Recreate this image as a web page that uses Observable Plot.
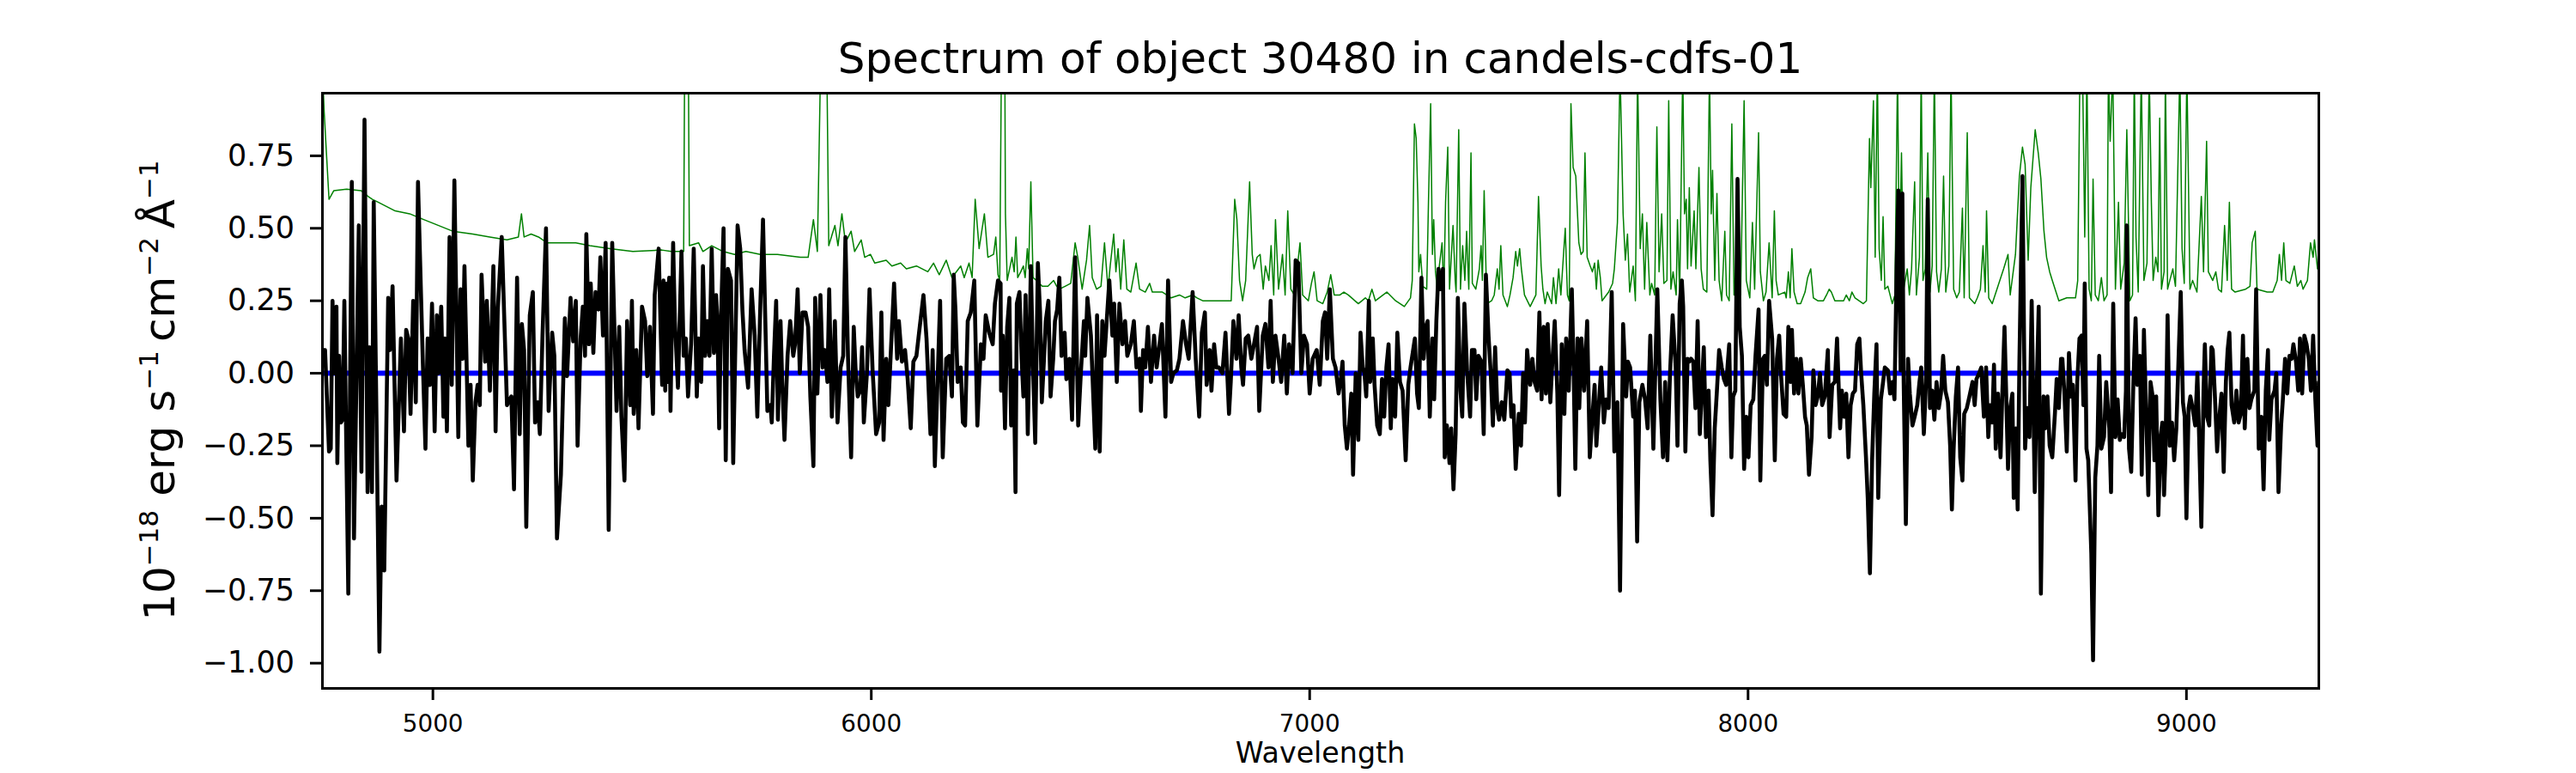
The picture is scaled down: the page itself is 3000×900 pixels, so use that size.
<!DOCTYPE html>
<html>
<head>
<meta charset="utf-8">
<script src="https://cdn.jsdelivr.net/npm/d3@7"></script>
<script src="https://cdn.jsdelivr.net/npm/@observablehq/plot@0.6"></script>
<style>
  html, body { margin: 0; padding: 0; background: #fff; }
  svg { display: block; }
</style>
</head>
<body>
<div id="chart"></div>
<script>
// ---- Text ----
const titleText = "Spectrum of object 30480 in candels-cdfs-01";
const xLabelText = "Wavelength";

// ---- Axis settings (data units) ----
const xDomain = [4748, 9302];
const yDomain = [-1.087, 0.966];
const xTicks = [5000, 6000, 7000, 8000, 9000];
const yTicks = [-1.0, -0.75, -0.5, -0.25, 0.0, 0.25, 0.5, 0.75];
const zeroLevel = [0];

// ---- Observed flux (black), [wavelength, flux] ----
const flux = [
[4748,0.08],[4754,0.08],[4763,-0.27],[4767,-0.26],[4771,0.25],[4776,0.00],[4780,0.23],[4782,-0.31],[4786,0.06],[4790,-0.17],
[4794,-0.16],[4798,0.25],[4807,-0.76],[4815,0.66],[4820,-0.57],[4831,0.51],[4837,-0.34],[4844,0.875],[4851,-0.41],[4855,0.09],
[4861,-0.41],[4865,0.59],[4870,0.00],[4878,-0.96],[4883,-0.46],[4889,-0.68],[4898,0.26],[4902,0.08],[4908,0.30],[4917,-0.37],
[4927,0.12],[4934,-0.20],[4939,0.15],[4944,0.12],[4949,-0.14],[4955,0.25],[4961,-0.10],[4966,0.66],[4972,0.32],[4977,0.04],
[4983,-0.26],[4988,0.12],[4993,-0.04],[4998,0.24],[5004,-0.20],[5009,0.20],[5013,0.00],[5019,0.23],[5024,-0.15],[5027,0.12],
[5032,-0.20],[5038,0.47],[5043,-0.04],[5049,0.665],[5058,-0.22],[5063,0.29],[5068,0.05],[5072,0.37],[5081,-0.25],[5086,-0.04],
[5091,-0.37],[5097,-0.10],[5102,-0.04],[5107,-0.11],[5111,0.34],[5119,0.04],[5123,0.25],[5130,-0.06],[5138,0.37],[5143,-0.20],
[5148,0.22],[5157,0.47],[5169,-0.11],[5179,-0.08],[5185,-0.40],[5192,0.33],[5198,-0.21],[5203,0.17],[5208,0.08],[5213,-0.53],
[5221,0.20],[5228,0.28],[5233,-0.17],[5239,-0.10],[5244,-0.21],[5250,0.13],[5258,0.50],[5264,-0.13],[5272,0.14],[5277,0.06],
[5283,-0.57],[5292,-0.35],[5301,0.19],[5306,-0.01],[5314,0.26],[5320,0.11],[5326,0.25],[5330,-0.25],[5337,0.12],[5342,0.23],
[5347,0.06],[5350,0.48],[5356,0.10],[5360,0.31],[5366,0.07],[5371,0.28],[5378,0.22],[5382,0.40],[5388,0.13],[5394,0.45],
[5401,-0.54],[5409,0.45],[5419,-0.13],[5425,0.16],[5430,-0.15],[5437,-0.37],[5443,0.18],[5450,-0.11],[5454,0.25],[5458,-0.14],
[5464,0.08],[5469,-0.19],[5477,0.23],[5484,0.18],[5489,-0.01],[5495,0.16],[5502,-0.14],[5506,0.27],[5515,0.43],[5522,0.00],
[5523,-0.04],[5526,0.32],[5530,-0.06],[5533,0.31],[5537,-0.03],[5539,0.33],[5542,-0.13],[5548,0.45],[5552,0.18],[5559,-0.05],
[5567,0.42],[5572,0.06],[5577,0.12],[5582,-0.08],[5589,0.10],[5595,0.43],[5602,-0.08],[5606,0.12],[5612,-0.03],[5616,0.37],
[5621,0.06],[5626,0.18],[5631,0.06],[5636,0.43],[5641,0.07],[5646,0.27],[5649,0.18],[5653,-0.19],[5657,0.18],[5663,0.50],
[5668,-0.30],[5673,0.36],[5680,0.32],[5685,-0.31],[5695,0.51],[5701,0.43],[5706,0.22],[5711,0.08],[5719,-0.05],[5727,0.29],
[5734,0.13],[5740,-0.15],[5747,0.24],[5753,0.53],[5763,-0.13],[5770,-0.11],[5773,-0.17],[5778,0.06],[5783,0.25],[5787,-0.16],
[5793,0.18],[5797,-0.04],[5802,-0.23],[5809,0.06],[5815,0.18],[5822,0.06],[5826,0.10],[5832,0.29],[5837,0.00],[5843,0.21],
[5850,0.21],[5856,0.16],[5861,-0.08],[5868,-0.32],[5872,0.26],[5877,-0.07],[5884,0.27],[5889,0.02],[5894,0.08],[5900,-0.03],
[5904,0.29],[5910,-0.15],[5917,0.18],[5923,-0.17],[5930,0.02],[5936,0.06],[5941,0.47],[5947,0.05],[5954,-0.29],[5960,0.16],
[5964,0.02],[5969,-0.08],[5975,-0.06],[5979,0.09],[5983,-0.17],[5990,0.00],[5996,0.29],[6003,0.01],[6011,-0.21],[6018,-0.17],
[6023,0.21],[6028,-0.23],[6034,0.05],[6039,-0.11],[6046,0.12],[6052,0.31],[6059,0.05],[6063,0.18],[6070,0.04],[6077,0.08],
[6083,-0.02],[6090,-0.19],[6096,0.04],[6103,0.06],[6109,0.14],[6119,0.27],[6126,0.12],[6135,-0.21],[6140,0.08],[6145,-0.32],
[6150,-0.08],[6157,0.25],[6163,-0.29],[6171,0.05],[6178,0.06],[6184,-0.08],[6188,0.34],[6192,0.22],[6197,-0.03],[6204,0.02],
[6209,-0.17],[6214,-0.18],[6220,0.18],[6227,0.21],[6235,0.32],[6242,-0.18],[6250,0.10],[6256,0.05],[6261,0.20],[6269,0.14],
[6277,0.10],[6282,0.24],[6289,0.32],[6295,0.31],
[6296,-0.06],[6300,0.13],[6305,-0.19],[6310,0.16],[6315,0.26],[6319,-0.18],[6325,0.01],[6329,-0.41],[6332,0.24],[6338,0.28],
[6343,0.05],[6347,-0.08],[6352,0.27],[6357,-0.21],[6364,0.37],[6369,0.02],[6374,-0.24],[6380,0.38],[6385,0.21],[6389,-0.10],
[6394,0.05],[6398,0.18],[6404,0.25],[6409,-0.08],[6415,0.05],[6419,0.18],[6424,0.22],[6429,0.33],[6434,0.06],[6441,0.14],
[6445,-0.02],[6452,0.05],[6458,-0.16],[6465,0.40],[6472,-0.18],[6478,0.00],[6485,0.18],[6488,0.06],[6493,0.26],[6501,0.13],
[6511,-0.26],[6515,0.20],[6521,-0.27],[6527,0.18],[6532,0.06],[6537,0.18],[6543,0.32],[6550,0.13],[6554,0.24],[6560,-0.03],
[6566,0.24],[6573,0.10],[6579,0.18],[6584,0.06],[6592,0.10],[6599,0.18],[6605,0.02],[6612,0.05],[6615,-0.13],[6620,0.08],
[6625,0.02],[6631,0.16],[6638,-0.03],[6645,0.13],[6651,0.02],[6656,0.08],[6663,0.17],[6671,-0.15],[6677,0.32],[6684,-0.03],
[6689,0.00],[6697,0.01],[6703,0.05],[6711,0.18],[6718,0.10],[6724,0.05],[6733,0.28],[6740,0.05],[6748,-0.15],[6754,0.14],
[6761,0.21],[6765,-0.04],[6772,0.08],[6776,-0.06],[6782,0.10],[6787,0.02],[6793,0.02],[6801,0.00],[6808,0.14],[6816,-0.14],
[6820,-0.03],[6826,0.18],[6833,0.05],[6838,0.20],[6844,0.02],[6848,-0.04],[6854,0.12],[6860,0.13],[6867,0.05],[6873,0.10],
[6880,0.16],[6885,-0.13],[6893,0.13],[6899,0.17],[6906,0.02],[6911,0.25],[6916,-0.03],[6922,0.13],[6929,0.05],[6935,-0.03],
[6942,0.13],[6948,-0.07],[6953,0.10],[6961,0.00],[6968,0.39],[6974,0.38],[6981,0.00],[6987,0.13],[6994,0.10],[7000,-0.07],
[7007,0.05],[7016,0.08],[7023,-0.04],[7030,0.18],[7035,0.21],[7040,0.05],[7046,0.29],[7053,0.05],[7059,0.02],[7066,-0.07],
[7071,-0.02],[7075,0.04],[7080,-0.18],[7085,-0.26],[7090,-0.18],[7095,-0.07],[7099,-0.35],[7105,0.00],[7111,-0.23],[7116,0.14],
[7121,0.02],[7125,0.00],[7129,-0.08],[7135,0.25],[7138,-0.03],[7144,0.12],[7148,-0.04],[7154,-0.18],[7160,-0.21],[7165,-0.02],
[7170,-0.15],[7175,0.02],[7180,0.10],[7185,-0.19],[7189,-0.02],[7195,-0.15],[7200,0.14],[7206,-0.03],[7212,-0.06],[7219,-0.30],
[7225,-0.04],[7230,0.02],[7234,0.06],[7240,0.12],[7245,-0.07],[7249,-0.12],[7255,0.33],[7260,0.05],[7265,0.16],[7269,0.18],
[7274,-0.15],[7280,0.12],[7284,-0.09],[7289,0.18],[7294,0.36],[7299,0.29],[7304,0.36],[7308,-0.29],[7313,-0.18],[7319,-0.31],
[7323,-0.19],[7328,-0.40],[7333,-0.21],[7338,0.26],[7344,-0.06],[7348,-0.15],[7353,0.24],[7359,0.01],[7366,-0.15],[7370,0.08],
[7376,0.08],[7380,-0.09],[7385,0.06],[7392,0.04],[7397,-0.21],[7402,0.34],[7408,0.13],[7413,0.00],[7418,-0.18],[7423,0.09],
[7428,-0.12],[7432,-0.16],[7438,-0.10],[7444,-0.16],[7451,0.01],[7456,0.00],[7460,-0.15],[7465,-0.11],[7470,-0.33],[7477,-0.14],
[7482,-0.25],[7487,0.00],[7491,-0.17],[7496,0.08],[7503,-0.04],[7508,0.05],[7513,-0.03],[7519,-0.06],[7524,0.21],[7529,-0.09],
[7534,0.16],[7539,-0.07],[7543,0.17],[7549,-0.10],[7554,0.05],[7559,0.18],[7565,-0.07],[7569,-0.42],[7575,0.10],[7581,-0.14],
[7585,0.12],[7591,-0.06],[7598,0.29],[7602,0.02],[7606,-0.33],[7611,0.12],[7615,-0.12],[7620,0.12],[7626,-0.06],[7633,0.18],
[7639,-0.29],[7644,-0.17],[7650,-0.04],[7654,-0.25],[7660,-0.10],[7665,0.02],[7671,-0.17],[7676,-0.09],[7682,-0.12],[7689,0.28],
[7695,-0.27],[7702,-0.10],[7708,-0.75],[7715,0.17],[7722,-0.08],[7726,0.04],[7731,0.02],[7738,-0.15],[7742,-0.06],[7747,-0.58],
[7752,-0.10],[7759,-0.04],[7765,-0.09],[7771,-0.19],[7777,0.13],[7784,-0.26],[7789,0.05],[7793,0.29],[7800,-0.09],[7806,-0.29],
[7811,-0.03],[7816,-0.30],[7822,0.00],[7828,0.20],[7835,0.02],[7839,-0.25],
[7844,0.24],[7849,0.32],[7852,0.23],[7857,-0.27],[7862,0.05],[7866,0.04],[7870,0.05],[7875,0.04],[7880,-0.12],[7885,0.18],
[7890,-0.21],[7895,-0.04],[7899,0.09],[7904,-0.22],[7910,-0.06],[7914,-0.30],[7919,-0.49],[7924,-0.19],[7929,-0.06],[7934,0.08],
[7940,0.02],[7945,-0.02],[7950,-0.04],[7957,0.10],[7962,-0.29],[7966,-0.08],[7971,-0.06],[7976,0.67],[7981,0.16],[7986,0.06],
[7991,-0.33],[7996,-0.15],[8001,-0.29],[8006,-0.11],[8012,-0.09],[8017,0.06],[8024,0.22],[8028,-0.37],[8034,0.05],[8038,0.06],
[8043,-0.04],[8048,0.25],[8055,0.12],[8061,-0.30],[8066,0.05],[8071,0.13],[8075,0.00],[8081,-0.14],[8087,-0.15],[8092,0.16],
[8097,-0.03],[8100,0.15],[8105,-0.07],[8110,0.05],[8115,-0.07],[8120,0.05],[8125,-0.04],[8130,-0.15],[8134,-0.18],[8139,-0.35],
[8145,-0.22],[8149,0.01],[8154,-0.11],[8159,-0.08],[8164,0.00],[8169,-0.11],[8175,-0.08],[8182,0.08],[8186,-0.22],[8192,-0.04],
[8198,-0.03],[8203,0.12],[8210,-0.19],[8214,-0.06],[8219,-0.15],[8224,-0.07],[8229,-0.29],[8234,-0.11],[8239,-0.07],[8244,-0.06],
[8249,0.10],[8254,0.12],[8258,0.00],[8263,-0.11],[8269,-0.29],[8273,-0.43],[8278,-0.69],[8283,-0.30],[8288,-0.07],[8293,0.10],
[8297,-0.43],[8303,-0.09],[8308,-0.03],[8312,0.02],[8319,0.01],[8324,-0.07],[8329,-0.03],[8334,-0.09],[8339,0.37],[8343,0.63],
[8348,0.01],[8352,0.62],[8355,-0.03],[8360,-0.52],[8365,0.05],[8369,-0.07],[8375,-0.18],[8380,-0.15],[8386,-0.11],[8391,-0.03],
[8395,0.02],[8401,-0.21],[8406,-0.03],[8410,0.60],[8415,-0.12],[8420,-0.06],[8425,-0.16],[8430,-0.03],[8435,-0.12],[8440,-0.07],
[8445,0.06],[8450,-0.06],[8456,-0.10],[8461,-0.25],[8465,-0.47],[8469,-0.26],[8474,-0.08],[8479,0.02],[8484,-0.29],[8489,-0.37],
[8493,-0.14],[8499,-0.12],[8505,-0.08],[8512,-0.03],[8517,-0.11],[8521,-0.02],[8527,0.00],[8532,0.02],[8538,-0.15],[8543,0.02],
[8548,-0.22],[8552,-0.11],
[8557,-0.17],[8561,0.03],[8565,-0.26],[8570,-0.07],[8576,-0.29],[8580,-0.07],[8585,0.16],[8589,-0.08],[8593,-0.33],[8598,-0.12],
[8603,-0.07],[8606,-0.43],[8611,-0.19],[8615,-0.47],[8619,0.04],[8626,0.68],[8632,-0.26],[8637,-0.12],[8642,-0.22],[8647,0.25],
[8654,-0.41],[8658,-0.08],[8663,0.23],[8668,-0.76],[8674,-0.08],[8678,-0.19],[8683,-0.08],[8688,-0.25],[8694,-0.29],[8700,-0.14],
[8704,-0.02],[8709,-0.12],[8714,0.05],[8717,0.05],[8722,-0.08],[8727,-0.27],[8732,0.07],[8737,-0.08],[8741,-0.04],[8747,-0.37],
[8751,-0.03],[8756,0.12],[8761,0.13],[8765,-0.11],[8768,0.31],[8772,-0.26],[8776,-0.30],[8783,-0.62],[8787,-0.99],[8792,-0.36],
[8797,-0.25],[8801,0.06],[8806,-0.26],[8812,-0.22],[8817,-0.03],[8824,-0.19],[8828,-0.41],[8833,0.24],[8838,-0.22],[8843,-0.09],
[8848,-0.23],[8852,-0.21],[8858,-0.22],[8862,-0.06],[8864,0.51],[8869,-0.26],[8874,-0.34],[8879,-0.03],[8884,0.19],[8888,-0.04],
[8894,0.06],[8898,-0.35],[8903,0.15],[8909,-0.19],[8913,-0.42],[8918,-0.03],[8923,-0.08],[8927,-0.30],[8931,-0.08],[8936,-0.49],
[8941,-0.22],[8945,-0.17],[8949,-0.42],[8952,-0.29],[8957,0.20],[8962,-0.25],[8967,-0.17],[8972,-0.30],[8977,-0.19],[8982,0.05],
[8987,0.28],[8992,-0.10],[8996,-0.15],[9000,-0.50],[9005,-0.12],[9009,-0.08],[9014,-0.12],[9020,-0.18],[9025,0.00],[9029,-0.22],
[9034,-0.53],[9039,-0.06],[9042,0.10],[9047,-0.15],[9052,-0.18],[9057,0.09],[9060,0.08],[9065,-0.08],[9070,-0.27],[9074,-0.17],
[9080,-0.07],[9085,-0.34],[9090,-0.03],[9094,0.08],[9098,0.14],[9103,-0.11],[9109,-0.17],[9114,-0.06],[9119,-0.17],[9124,-0.14],
[9129,0.13],[9133,-0.19],[9139,0.05],[9144,-0.12],[9148,-0.09],[9155,-0.06],[9159,0.29],[9165,-0.26],[9171,-0.15],[9176,-0.40],
[9181,-0.06],[9186,0.08],[9189,-0.23],[9194,-0.09],[9201,-0.06],[9205,0.00],[9210,-0.41],[9216,-0.18],[9220,-0.09],[9225,0.05],
[9230,-0.07],[9235,0.06],[9240,0.05],[9244,0.10],[9250,0.04],[9255,-0.06],[9259,0.12],[9264,-0.07],[9269,0.13],[9274,0.10],
[9279,0.05],[9284,-0.06],[9289,0.13],[9294,-0.09],[9299,-0.25],[9302,-0.03]
];

// ---- Noise / sky spectrum (green), [wavelength, value] ----
const noise = [
[4748,1.05],[4752,0.90],[4763,0.60],[4774,0.63],[4803,0.635],[4836,0.63],[4852,0.61],[4862,0.60],[4875,0.59],[4914,0.56],
[4947,0.55],[4979,0.53],[5012,0.51],[5045,0.49],[5091,0.48],[5130,0.47],[5169,0.46],[5195,0.47],[5202,0.55],[5208,0.47],
[5224,0.48],[5241,0.47],[5260,0.45],[5293,0.45],[5326,0.45],[5358,0.44],[5404,0.43],[5456,0.42],[5522,0.425],
[5544,0.42],[5572,0.42],[5575,1.3],[5582,1.3],[5585,0.44],[5606,0.45],[5616,0.42],[5636,0.44],[5662,0.42],[5688,0.41],
[5714,0.42],[5747,0.41],[5786,0.41],[5838,0.40],[5856,0.40],[5868,0.53],[5877,0.42],[5887,1.3],[5897,1.3],[5903,0.44],
[5917,0.51],[5924,0.44],[5933,0.55],[5941,0.45],[5954,0.49],[5962,0.42],[5977,0.46],[5985,0.40],[5998,0.41],[6008,0.38],
[6034,0.39],[6047,0.37],[6067,0.38],[6080,0.36],[6103,0.37],[6129,0.35],[6142,0.38],[6155,0.34],[6171,0.39],[6184,0.33],
[6204,0.37],[6212,0.33],[6223,0.38],[6230,0.33],[6237,0.60],[6246,0.43],[6258,0.55],[6266,0.40],[6279,0.41],[6284,0.47],
[6289,0.34],[6293,0.32],
[6298,1.3],[6304,1.3],[6306,0.55],[6310,0.32],[6321,0.40],[6326,0.35],[6330,0.47],[6334,0.33],[6341,0.35],[6347,0.37],
[6351,0.33],[6356,0.43],[6359,0.36],[6364,0.66],[6369,0.33],[6377,0.32],[6390,0.30],[6403,0.30],[6416,0.32],[6423,0.30],
[6429,0.29],[6442,0.30],[6455,0.31],[6465,0.45],[6471,0.40],[6481,0.29],[6491,0.39],[6498,0.51],[6504,0.33],[6514,0.29],
[6524,0.30],[6532,0.45],[6540,0.29],[6545,0.37],[6553,0.48],[6558,0.35],[6563,0.43],[6569,0.29],[6576,0.46],[6583,0.29],
[6592,0.28],[6604,0.38],[6612,0.29],[6625,0.28],[6635,0.31],[6641,0.28],[6664,0.28],[6674,0.27],[6684,0.26],[6703,0.27],
[6716,0.26],[6733,0.27],[6743,0.26],[6756,0.25],[6795,0.25],[6821,0.25],[6829,0.60],[6834,0.53],[6840,0.32],[6847,0.25],
[6854,0.32],[6863,0.66],[6869,0.41],[6873,0.36],[6880,0.40],[6887,0.41],[6894,0.29],[6899,0.37],[6907,0.32],[6912,0.44],
[6918,0.27],[6922,0.53],[6929,0.29],[6938,0.41],[6944,0.27],[6950,0.56],[6957,0.29],[6965,0.27],[6978,0.45],[6984,0.27],
[6997,0.25],[7004,0.31],[7010,0.35],[7017,0.25],[7030,0.24],[7040,0.28],[7048,0.34],[7056,0.27],[7069,0.27],
[7078,0.28],[7088,0.27],[7111,0.24],[7127,0.26],[7134,0.25],[7142,0.29],[7150,0.25],[7176,0.28],[7196,0.25],[7216,0.23],
[7230,0.26],[7234,0.32],[7239,0.86],[7243,0.81],[7247,0.59],[7249,0.35],[7253,0.41],[7258,0.30],[7267,0.29],[7271,0.59],
[7276,0.93],[7280,0.41],[7283,0.53],[7287,0.35],[7291,0.29],[7295,0.36],[7302,0.45],[7306,0.28],[7310,0.59],[7315,0.78],
[7319,0.29],[7323,0.40],[7327,0.51],[7332,0.32],[7334,0.28],[7340,0.84],[7344,0.29],[7349,0.44],[7354,0.32],[7358,0.49],
[7363,0.29],[7368,0.76],[7371,0.31],[7379,0.29],[7387,0.36],[7391,0.44],[7394,0.32],[7398,0.63],[7404,0.24],[7415,0.25],
[7421,0.27],[7428,0.36],[7432,0.29],[7436,0.44],[7441,0.27],[7451,0.23],[7457,0.27],[7464,0.33],[7470,0.42],[7474,0.37],
[7479,0.43],[7483,0.36],[7490,0.27],[7503,0.23],[7516,0.27],[7522,0.61],[7528,0.37],[7532,0.29],[7537,0.24],[7542,0.28],
[7552,0.24],[7556,0.33],[7562,0.24],[7568,0.36],[7573,0.27],[7583,0.50],[7588,0.27],[7592,0.25],[7596,0.93],[7601,0.71],
[7607,0.68],[7614,0.45],[7619,0.41],[7624,0.42],[7628,0.76],[7633,0.40],[7640,0.37],[7645,0.35],[7650,0.38],[7654,0.29],
[7658,0.39],[7663,0.33],[7667,0.25],[7682,0.28],[7691,0.31],[7695,0.36],[7702,0.52],[7708,1.05],[7715,0.55],[7720,0.39],
[7725,0.48],[7730,0.28],[7738,0.37],[7743,0.25],[7748,1.05],[7754,0.43],[7759,0.55],[7764,0.29],[7769,0.52],[7776,0.27],
[7780,0.31],[7787,0.27],[7792,0.85],[7797,0.35],[7803,0.55],[7808,0.31],[7815,0.32],[7819,0.94],[7824,0.29],[7829,0.35],
[7836,0.27],
[7839,0.53],[7844,0.27],[7851,1.05],[7855,0.55],[7859,0.60],[7862,0.36],[7866,0.64],[7870,0.37],[7877,0.56],[7881,0.36],
[7888,0.71],[7893,0.36],[7898,0.29],[7906,0.28],[7912,1.05],[7916,0.55],[7919,0.70],[7924,0.32],[7929,0.62],[7934,0.32],
[7940,0.25],[7947,0.49],[7951,0.27],[7957,0.25],[7963,0.86],[7968,0.27],[7976,0.32],[7983,0.27],[7991,0.94],[7996,0.32],
[8004,0.26],[8010,0.52],[8015,0.29],[8024,0.83],[8028,0.35],[8035,0.25],[8041,0.28],[8048,0.45],[8055,0.26],[8060,0.56],
[8064,0.32],[8069,0.27],[8084,0.28],[8087,0.26],[8092,0.35],[8096,0.26],[8100,0.43],[8105,0.28],[8112,0.24],[8120,0.24],
[8130,0.28],[8136,0.33],[8143,0.36],[8149,0.26],[8159,0.25],[8172,0.25],[8179,0.27],[8185,0.29],[8190,0.28],[8198,0.25],
[8218,0.25],[8224,0.27],[8231,0.25],[8237,0.28],[8244,0.26],[8263,0.24],[8270,0.25],[8277,0.81],[8280,0.64],[8286,0.94],
[8290,0.40],[8295,1.05],[8299,0.43],[8304,0.32],[8308,0.54],[8312,0.29],[8319,0.30],[8329,0.24],[8335,0.27],[8341,1.05],
[8345,0.37],[8350,0.76],[8355,0.29],[8363,0.36],[8368,0.27],[8373,0.36],[8380,0.66],[8384,0.27],[8391,0.40],[8395,1.05],
[8399,0.32],[8404,0.36],[8410,0.76],[8415,0.28],[8420,0.37],[8425,1.05],[8430,0.35],[8435,0.28],[8441,0.36],[8446,0.68],
[8451,0.28],[8458,0.37],[8463,1.05],[8469,0.29],[8476,0.26],[8482,0.28],[8489,0.57],[8493,0.26],[8500,0.83],[8505,0.26],
[8517,0.24],[8523,0.26],[8530,0.29],[8536,0.44],[8541,0.28],[8544,0.56],[8549,0.26],
[8557,0.24],[8583,0.36],[8593,0.41],[8598,0.27],[8610,0.41],[8619,0.68],[8626,0.78],[8632,0.72],[8639,0.39],[8645,0.64],
[8655,0.84],[8662,0.76],[8668,0.67],[8675,0.49],[8681,0.40],[8688,0.35],[8694,0.32],[8709,0.25],[8727,0.26],[8747,0.26],
[8752,0.32],[8757,1.05],[8763,1.05],[8768,0.47],[8773,1.05],[8778,0.29],[8783,0.25],[8787,0.67],[8792,0.27],[8799,0.25],
[8806,0.33],[8812,0.25],[8819,0.27],[8822,1.05],[8826,0.80],[8832,1.05],[8838,0.29],[8845,0.59],[8850,0.29],[8858,0.38],
[8864,0.84],[8871,0.25],[8877,0.27],[8881,1.05],[8885,0.47],[8890,0.28],[8897,1.05],[8903,0.32],[8910,0.38],[8915,1.05],
[8920,0.59],[8924,0.32],[8930,0.40],[8935,0.35],[8939,0.88],[8943,0.29],[8949,0.35],[8952,1.05],[8957,0.29],[8962,0.32],
[8969,0.36],[8975,0.30],[8985,1.05],[8990,0.43],[8995,0.31],[9001,1.05],[9008,0.29],[9014,0.32],[9024,0.28],[9034,0.61],
[9039,0.35],[9046,0.80],[9050,0.35],[9060,0.32],[9067,0.35],[9073,0.29],[9080,0.28],[9087,0.51],[9093,0.32],[9098,0.59],
[9103,0.29],[9111,0.28],[9135,0.29],[9145,0.30],[9150,0.45],[9157,0.49],[9161,0.29],[9184,0.28],[9197,0.28],[9207,0.32],
[9212,0.41],[9217,0.32],[9222,0.45],[9227,0.32],[9236,0.31],[9246,0.37],[9253,0.30],[9261,0.32],[9266,0.29],[9276,0.32],
[9283,0.45],[9289,0.40],[9292,0.46],[9299,0.36],[9302,0.37]
];

// ---- Layout ----
const W = 3000, H = 900;
const mL = 375, mR = 300, mT = 108, mB = 99;
const font = "'DejaVu Sans', 'Liberation Sans', sans-serif";

const chart = Plot.plot({
  width: W,
  height: H,
  marginLeft: mL,
  marginRight: mR,
  marginTop: mT,
  marginBottom: mB,
  style: {fontFamily: font, background: "#ffffff", color: "#000000", overflow: "visible"},
  x: {domain: xDomain},
  y: {domain: yDomain},
  marks: [
    Plot.line(noise, {x: d => d[0], y: d => d[1], stroke: "#008000", strokeWidth: 1.5, clip: true, strokeLinejoin: "round"}),
    Plot.ruleY(zeroLevel, {stroke: "#0000ff", strokeWidth: 6}),
    Plot.line(flux, {x: d => d[0], y: d => d[1], stroke: "#000000", strokeWidth: 4.6, clip: true, strokeLinejoin: "round"}),
    Plot.frame({stroke: "#000000", strokeWidth: 3}),
    Plot.axisX({ticks: xTicks, tickFormat: d => String(d), tickSize: 14, tickPadding: 17, fontSize: 27.8, strokeWidth: 3, label: null}),
    Plot.axisY({ticks: yTicks, tickFormat: d3.format(".2f"), tickSize: 14, tickPadding: 18.5, fontSize: 35, strokeWidth: 3, label: null})
  ]
});

document.getElementById("chart").appendChild(chart);

const svg = d3.select(chart);
const cx = mL + (W - mL - mR) / 2;

// Title
svg.append("text")
  .attr("x", cx).attr("y", 85)
  .attr("text-anchor", "middle")
  .attr("font-family", font)
  .attr("font-size", 50)
  .attr("fill", "#000")
  .text(titleText);

// X label
svg.append("text")
  .attr("x", cx).attr("y", 888)
  .attr("text-anchor", "middle")
  .attr("font-family", font)
  .attr("font-size", 33.3)
  .attr("fill", "#000")
  .text(xLabelText);

// Y label with superscripts
const yParts = [
  {t: "10", sup: false},
  {t: "\u221218", sup: true},
  {t: " erg s", sup: false},
  {t: "\u22121", sup: true},
  {t: "\u2009cm", sup: false},
  {t: "\u22122", sup: true},
  {t: "\u2009\u00C5", sup: false},
  {t: "\u22121", sup: true}
];
const yl = svg.append("text")
  .attr("transform", `translate(203, ${mT + (H - mT - mB) / 2}) rotate(-90)`)
  .attr("text-anchor", "middle")
  .attr("font-family", font)
  .attr("font-size", 50)
  .attr("fill", "#000");
let raised = false;
for (const p of yParts) {
  const ts = yl.append("tspan").text(p.t);
  if (p.sup && !raised) { ts.attr("font-size", 31).attr("dy", -19); raised = true; }
  else if (!p.sup && raised) { ts.attr("dy", 19); raised = false; }
  else if (p.sup) { ts.attr("font-size", 31); }
}
</script>
</body>
</html>
